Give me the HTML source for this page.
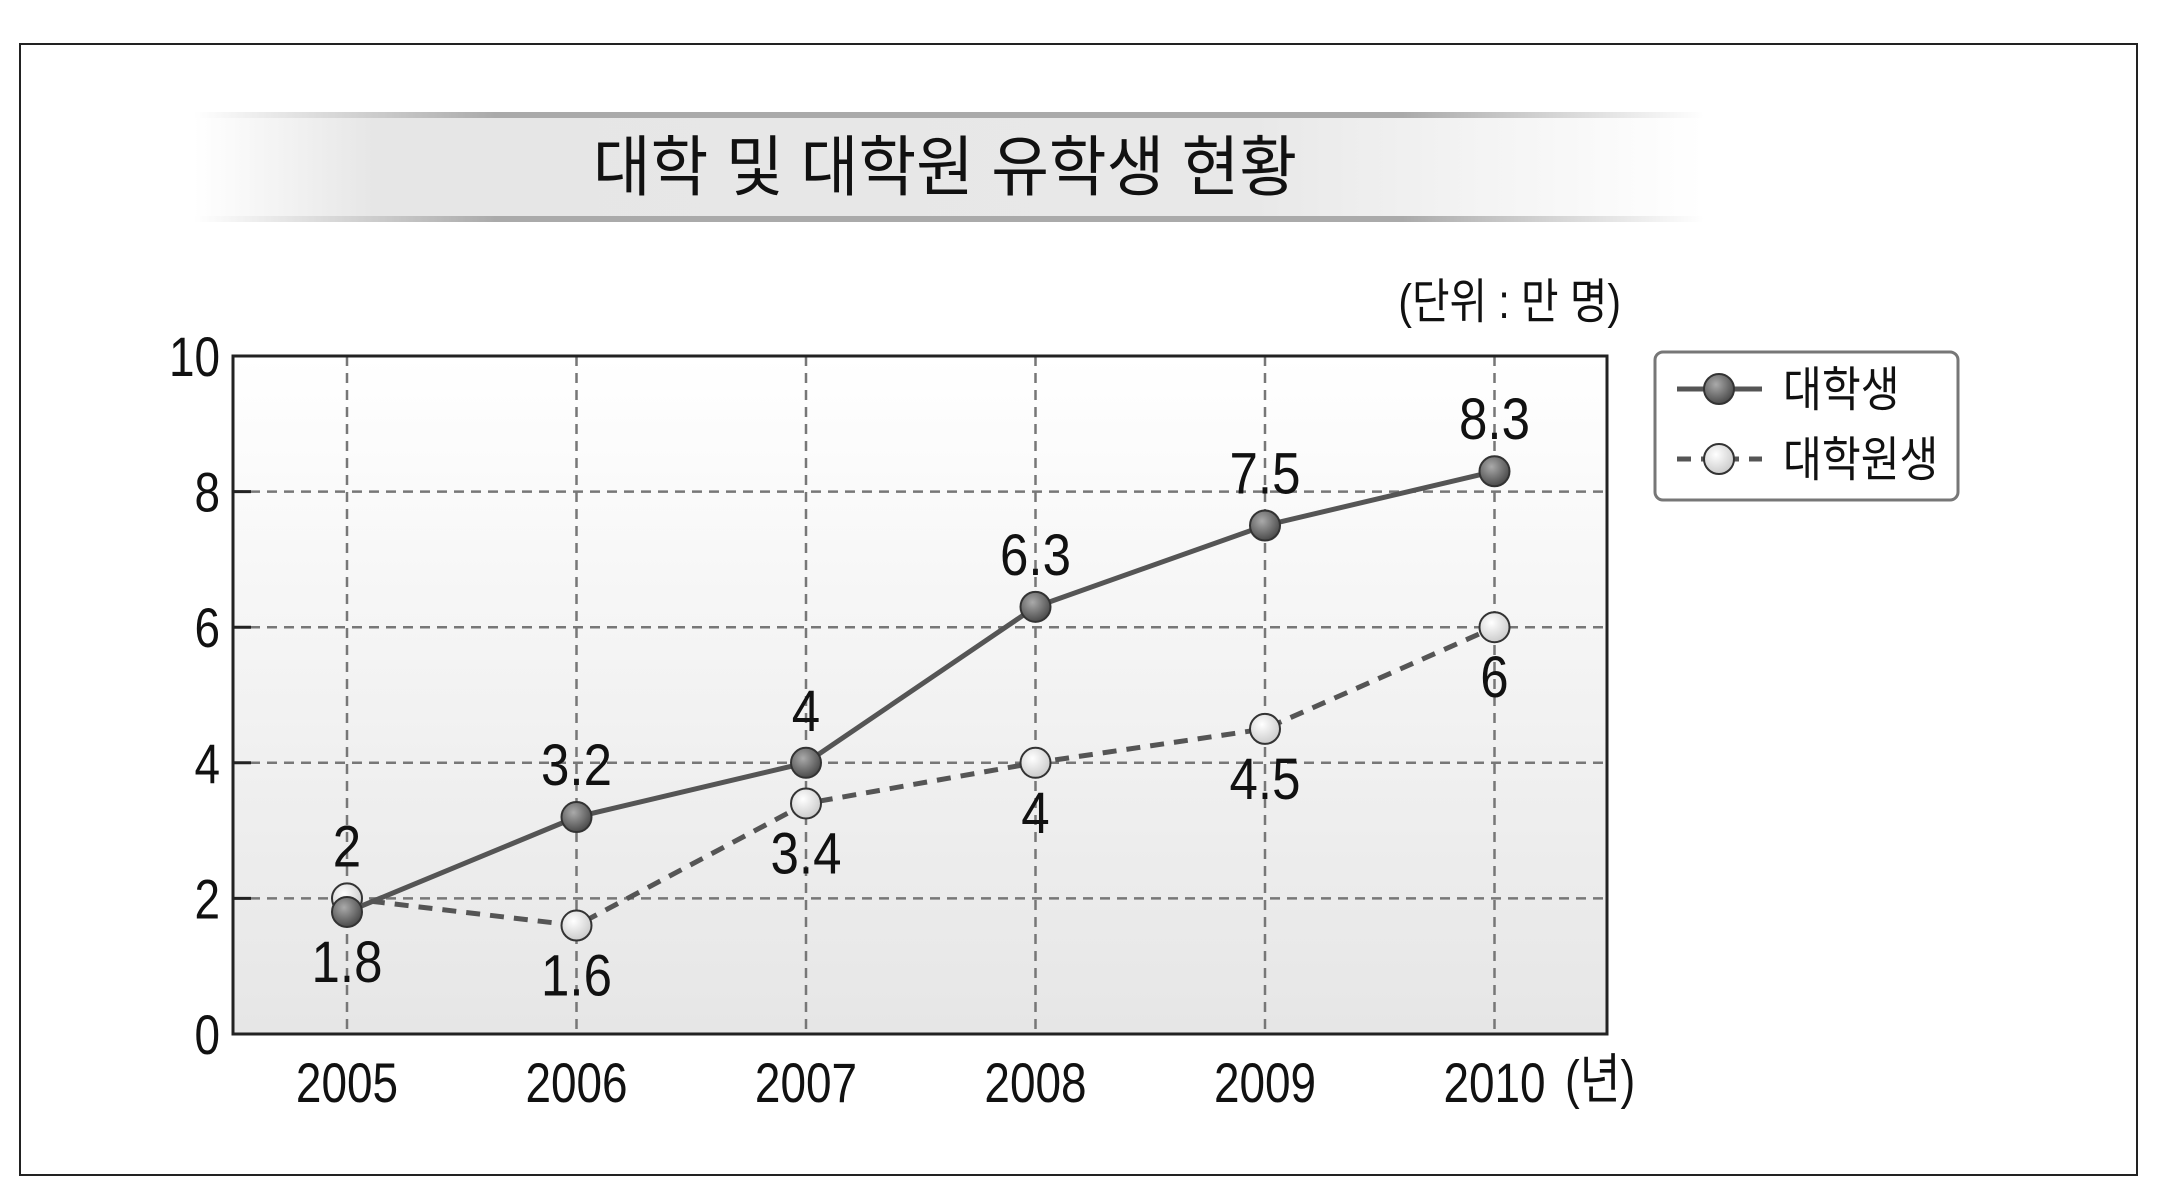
<!DOCTYPE html>
<html><head><meta charset="utf-8"><style>
html,body{margin:0;padding:0;background:#fff;}
svg{display:block;}
text{font-family:"Liberation Sans","Noto Sans CJK KR",sans-serif;fill:#111;}
</style></head><body>
<svg id="chart" width="2158" height="1185" viewBox="0 0 2158 1185">
<defs>
<linearGradient id="band" x1="0" x2="1" y1="0" y2="0">
<stop offset="0" stop-color="#fff"/><stop offset="0.12" stop-color="#e6e6e6"/><stop offset="0.7" stop-color="#e8e8e8"/><stop offset="1" stop-color="#fff"/>
</linearGradient>
<linearGradient id="rule" x1="0" x2="1" y1="0" y2="0">
<stop offset="0" stop-color="#fff"/><stop offset="0.2" stop-color="#aaa"/><stop offset="0.8" stop-color="#aaa"/><stop offset="1" stop-color="#fff"/>
</linearGradient>
<linearGradient id="plotbg" x1="0" x2="0" y1="0" y2="1">
<stop offset="0" stop-color="#ffffff"/><stop offset="1" stop-color="#e6e6e6"/>
</linearGradient>
<radialGradient id="dark" cx="0.4" cy="0.35" r="0.7">
<stop offset="0" stop-color="#aaa"/><stop offset="1" stop-color="#444"/>
</radialGradient>
<radialGradient id="light" cx="0.4" cy="0.35" r="0.7">
<stop offset="0" stop-color="#fff"/><stop offset="1" stop-color="#c8c8c8"/>
</radialGradient>
</defs>
<rect x="20" y="44" width="2117" height="1131" fill="#fff" stroke="#222" stroke-width="2"/>
<g>
<rect x="194" y="116" width="1510" height="104" fill="url(#band)"/>
<rect x="194" y="112" width="1510" height="6" fill="url(#rule)"/>
<rect x="194" y="216" width="1510" height="6" fill="url(#rule)"/>
<text x="945" y="190" font-size="66" text-anchor="middle" transform="translate(945,0) scale(0.95,1) translate(-945,0)">대학 및 대학원 유학생 현황</text>
</g>
<text x="1621" y="318" font-size="48" text-anchor="end" transform="translate(1621,0) scale(0.85,1) translate(-1621,0)">(단위 : 만 명)</text>
<rect x="233" y="356" width="1374" height="678" fill="url(#plotbg)"/>
<g id="grid"></g>
<g id="axes"></g>
<g id="series"></g>
<g id="labels"></g>
<g>
<rect x="1655" y="352" width="303" height="148" rx="8" fill="#fff" stroke="#777" stroke-width="3"/>
<g>
<line x1="1677" y1="389" x2="1762" y2="389" stroke="#555" stroke-width="5"/>
<circle cx="1719" cy="389" r="15" fill="url(#dark)" stroke="#333" stroke-width="2"/>
<text x="1783" y="406" font-size="48" transform="translate(1783,0) scale(0.88,1) translate(-1783,0)">대학생</text>
</g>
<g>
<line x1="1677" y1="459" x2="1762" y2="459" stroke="#555" stroke-width="5" stroke-dasharray="14,10"/>
<circle cx="1719" cy="459" r="15" fill="url(#light)" stroke="#333" stroke-width="2"/>
<text x="1783" y="476" font-size="48" transform="translate(1783,0) scale(0.88,1) translate(-1783,0)">대학원생</text>
</g>
</g>
</svg>
<script>
const years = ["2005","2006","2007","2008","2009","2010"];
const undergrad = [1.8, 3.2, 4, 6.3, 7.5, 8.3];
const grad = [2, 1.6, 3.4, 4, 4.5, 6];
const yTicks = [0, 2, 4, 6, 8, 10];
const undergradLabelAbove = [false, true, true, true, true, true];
const gradLabelAbove = [true, false, false, false, false, false];

const NS = "http://www.w3.org/2000/svg";
const L = 233, R = 1607, T = 356, B = 1034;
const x0 = 347, dx = 229.5;
function xs(i){ return x0 + i*dx; }
function ys(v){ return B - (v/10)*(B-T); }
function mk(tag, attrs, parent){
  const e = document.createElementNS(NS, tag);
  for (const k in attrs) e.setAttribute(k, attrs[k]);
  parent.appendChild(e); return e;
}
function narrow(t, x, s){ t.setAttribute('transform', `translate(${x},0) scale(${s},1) translate(${-x},0)`); }

const grid = document.getElementById('grid');
const axes = document.getElementById('axes');
yTicks.forEach(v=>{
  const y = ys(v);
  if (v>0 && v<10) {
    const g = mk('line',{x1:L,y1:y,x2:R,y2:y,stroke:'#777','stroke-width':2.5,'stroke-dasharray':'10,7'},grid);
    
    
    mk('line',{x1:L,y1:y,x2:L+18,y2:y,stroke:'#222','stroke-width':3},axes);
  }
  const t = mk('text',{x:220,y:y+20,'font-size':56,'text-anchor':'end'},axes);
  t.textContent = v;
  narrow(t,220,0.82);
  
  
});
years.forEach((yr,i)=>{
  const x = xs(i);
  const g = mk('line',{x1:x,y1:T,x2:x,y2:B,stroke:'#777','stroke-width':2.5,'stroke-dasharray':'10,7'},grid);
  
  
  const t = mk('text',{x:x,y:1102,'font-size':56,'text-anchor':'middle'},axes);
  t.textContent = yr;
  narrow(t,x,0.82);
  
  
});
const yl = mk('text',{x:1565,y:1098,'font-size':54},axes);
yl.textContent = '(년)';
narrow(yl,1565,0.82);


const ax = mk('path',{d:`M${L},${T} L${R},${T} L${R},${B} L${L},${B} Z`,fill:'none',stroke:'#222','stroke-width':3},axes);



const series = document.getElementById('series');
const labels = document.getElementById('labels');
function drawSeries(vals, dash, fill, name, above){
  const pts = vals.map((v,i)=>`${xs(i)},${ys(v)}`).join(' ');
  const pl = mk('polyline',{points:pts,fill:'none',stroke:'#555','stroke-width':5,'stroke-dasharray':dash},series);
  
  
  vals.forEach((v,i)=>{
    const c = mk('circle',{cx:xs(i),cy:ys(v),r:15,fill:fill,stroke:'#333','stroke-width':2},series);
    
    
    const ly = above[i] ? ys(v)-32 : ys(v)+70;
    const t = mk('text',{x:xs(i),y:ly,'font-size':58,'text-anchor':'middle','font-weight':'500'},labels);
    t.textContent = v;
    narrow(t,xs(i),0.88);
    
    
  });
}
drawSeries(grad,'14,10','url(#light)','grad',gradLabelAbove);
drawSeries(undergrad,'none','url(#dark)','undergrad',undergradLabelAbove);
</script>
</body></html>
